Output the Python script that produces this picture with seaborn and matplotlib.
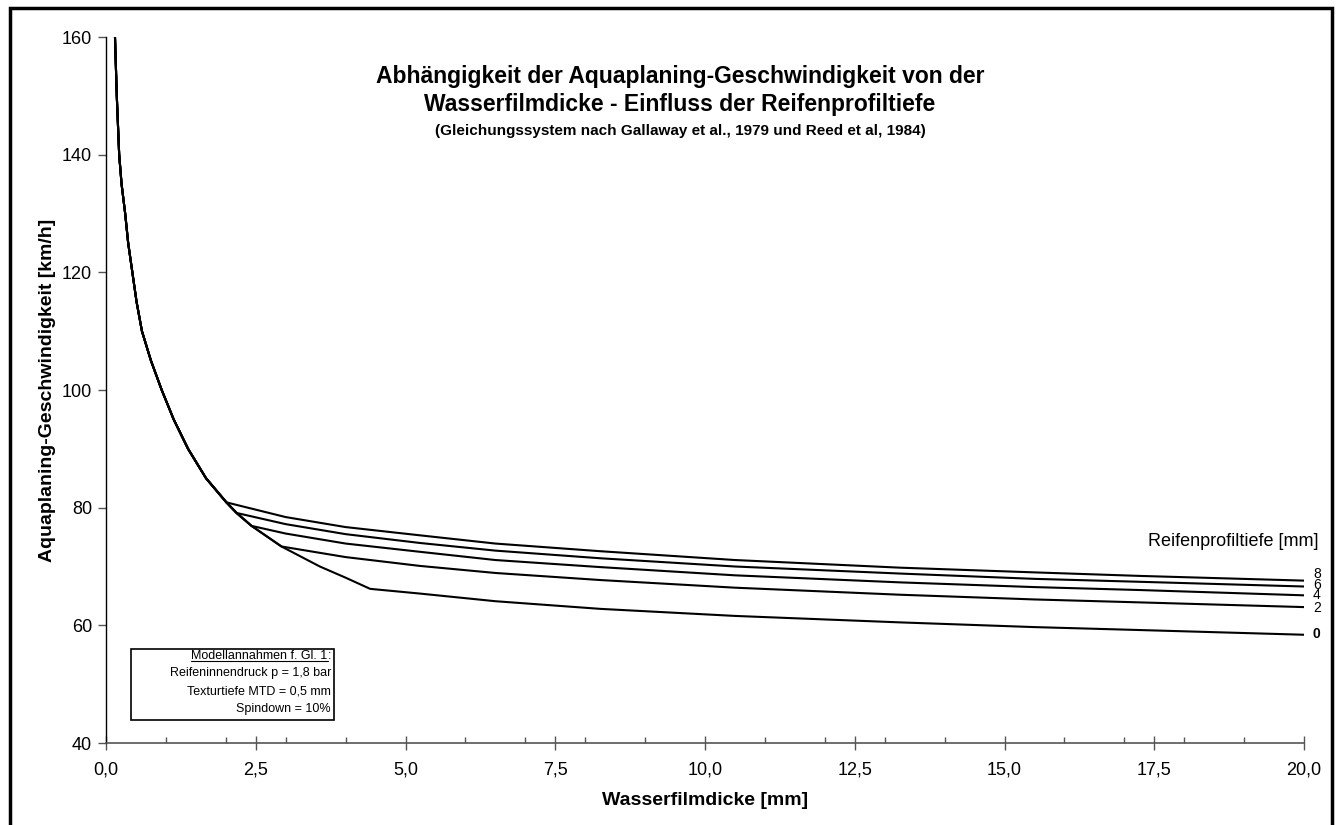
import pandas as pd
import matplotlib.pyplot as plt
import seaborn as sns
from matplotlib.ticker import MultipleLocator, FuncFormatter
from matplotlib.patches import Rectangle
from matplotlib.lines import Line2D

# common part of the curve (identical for all profile depths)
common_x = [0.15, 0.165, 0.18, 0.20, 0.22, 0.26, 0.32, 0.37, 0.44, 0.51, 0.60, 0.75, 0.93,
            1.13, 1.37, 1.67, 2.01, 2.18, 2.43, 2.93, 3.25, 3.57, 4.0, 4.41]
common_v = [160, 155, 150, 145, 140, 135, 130, 125, 120, 115, 110, 105, 100,
            95, 90, 85, 80.9, 79.1, 76.9, 73.4, 71.7, 70.0, 68.1, 66.2]

# branches per tyre profile depth [mm]
depths = [8, 6, 4, 2, 0]
branch_start = [2.01, 2.18, 2.43, 2.93, 4.41]
branch_x = [3.0, 4.0, 5.24, 6.5, 8.25, 10.5, 13.26, 15.5, 17.26, 20.0]
branch_v = {
    8: [78.4, 76.7, 75.3, 73.9, 72.6, 71.1, 69.8, 69.0, 68.4, 67.6],
    6: [77.2, 75.5, 74.0, 72.7, 71.4, 70.0, 68.8, 67.9, 67.4, 66.6],
    4: [75.6, 73.9, 72.5, 71.1, 69.9, 68.5, 67.3, 66.5, 66.0, 65.1],
    2: [None, 71.6, 70.1, 68.9, 67.7, 66.4, 65.2, 64.4, 63.9, 63.1],
    0: [None, None, 65.4, 64.1, 62.8, 61.6, 60.5, 59.7, 59.2, 58.4],
}
label_y = [68.8, 66.9, 65.1, 62.9, 58.5]

rows = []
for d, start in zip(depths, branch_start):
    for x, v in zip(common_x, common_v):
        if x <= start + 1e-9:
            rows.append((d, x, v))
    for x, v in zip(branch_x, branch_v[d]):
        if v is not None:
            rows.append((d, x, v))
df = pd.DataFrame(rows, columns=["tiefe", "wasserfilm", "v"])

sns.set_style("ticks")
plt.rcParams["font.family"] = ["Liberation Sans", "DejaVu Sans"]
plt.rcParams["text.color"] = "black"
plt.rcParams["axes.labelcolor"] = "black"
plt.rcParams["xtick.labelcolor"] = "black"
plt.rcParams["ytick.labelcolor"] = "black"

W, H = 1337, 825
fig = plt.figure(figsize=(W / 100, H / 100), dpi=100)
ax = fig.add_axes([106 / W, 1 - 743 / H, (1304 - 106) / W, (743 - 37) / H])

sns.lineplot(data=df, x="wasserfilm", y="v", hue="tiefe", palette=["black"] * 5,
             estimator=None, sort=False, legend=False, linewidth=1.5, ax=ax)

ax.set_xlim(0, 20)
ax.set_ylim(40, 160)
ax.xaxis.set_major_locator(MultipleLocator(2.5))
ax.xaxis.set_minor_locator(MultipleLocator(1))
ax.yaxis.set_major_locator(MultipleLocator(20))
ax.xaxis.set_major_formatter(FuncFormatter(lambda v, p: f"{v:.1f}".replace(".", ",")))
ax.yaxis.set_major_formatter(FuncFormatter(lambda v, p: f"{v:.0f}"))

for s in ["top", "right"]:
    ax.spines[s].set_visible(False)
ax.spines["left"].set_color("black")
ax.spines["left"].set_linewidth(1.0)
ax.spines["bottom"].set_color("#555555")
ax.spines["bottom"].set_linewidth(1.2)

ax.tick_params(axis="x", which="major", direction="inout", length=10, width=1,
               color="#555555", labelcolor="black", labelsize=13, pad=8)
ax.tick_params(axis="x", which="minor", direction="in", length=4, width=1, color="#555555")
ax.tick_params(axis="y", which="major", direction="out", length=6, width=1,
               color="#555555", labelcolor="black", labelsize=13, pad=4)

ax.set_xlabel("Wasserfilmdicke [mm]", fontsize=14, fontweight="bold", labelpad=10)
ax.set_ylabel("Aquaplaning-Geschwindigkeit [km/h]", fontsize=14, fontweight="bold", labelpad=4)

# end labels for profile depths
for d, y in zip(depths, label_y):
    ax.text(20.15, y, str(d), fontsize=10, ha="left", va="center",
            fontweight="bold" if d == 0 else "normal")
ax.text(1319 / W, 1 - 541 / H, "Reifenprofiltiefe [mm]", transform=fig.transFigure,
        fontsize=13, ha="right", va="center")

# title
fig.text(680 / W, 1 - 76 / H, "Abhängigkeit der Aquaplaning-Geschwindigkeit von der",
         fontsize=16.5, fontweight="bold", ha="center", va="center")
fig.text(680 / W, 1 - 105 / H, "Wasserfilmdicke - Einfluss der Reifenprofiltiefe",
         fontsize=16.5, fontweight="bold", ha="center", va="center")
fig.text(680 / W, 1 - 131 / H, "(Gleichungssystem nach Gallaway et al., 1979 und Reed et al, 1984)",
         fontsize=11, fontweight="bold", ha="center", va="center")

# model assumptions box
fig.patches.append(Rectangle((131 / W, 1 - 720 / H), (334 - 131) / W, (720 - 649) / H,
                             transform=fig.transFigure, fill=True, edgecolor="black",
                             linewidth=1.2, facecolor="white"))
box_lines = ["Reifeninnendruck p = 1,8 bar", "Texturtiefe MTD = 0,5 mm", "Spindown = 10%"]
tx = 331 / W
colon = fig.text(tx, 1 - 656 / H, ":", fontsize=9, ha="right", va="center")
fig.canvas.draw()
rend = fig.canvas.get_renderer()
cw = colon.get_window_extent(rend).width
head = fig.text(tx - cw / W, 1 - 656 / H, "Modellannahmen f. Gl. 1", fontsize=9,
                ha="right", va="center")
fig.canvas.draw()
bb = head.get_window_extent(rend)
fig.lines.append(Line2D([bb.x0 / W, bb.x1 / W], [(bb.y0 + 1) / H, (bb.y0 + 1) / H],
                        transform=fig.transFigure, color="black", linewidth=0.8))
for i, t in enumerate(box_lines):
    fig.text(tx, 1 - (673 + i * 18) / H, t, fontsize=9, ha="right", va="center")

# outer frame
fig.patches.append(Rectangle((10 / W, -0.05), (1332 - 10) / W, 1.05 - 8 / H,
                             transform=fig.transFigure, fill=False, edgecolor="black",
                             linewidth=2.5))

fig.savefig("out.png", dpi=100)
